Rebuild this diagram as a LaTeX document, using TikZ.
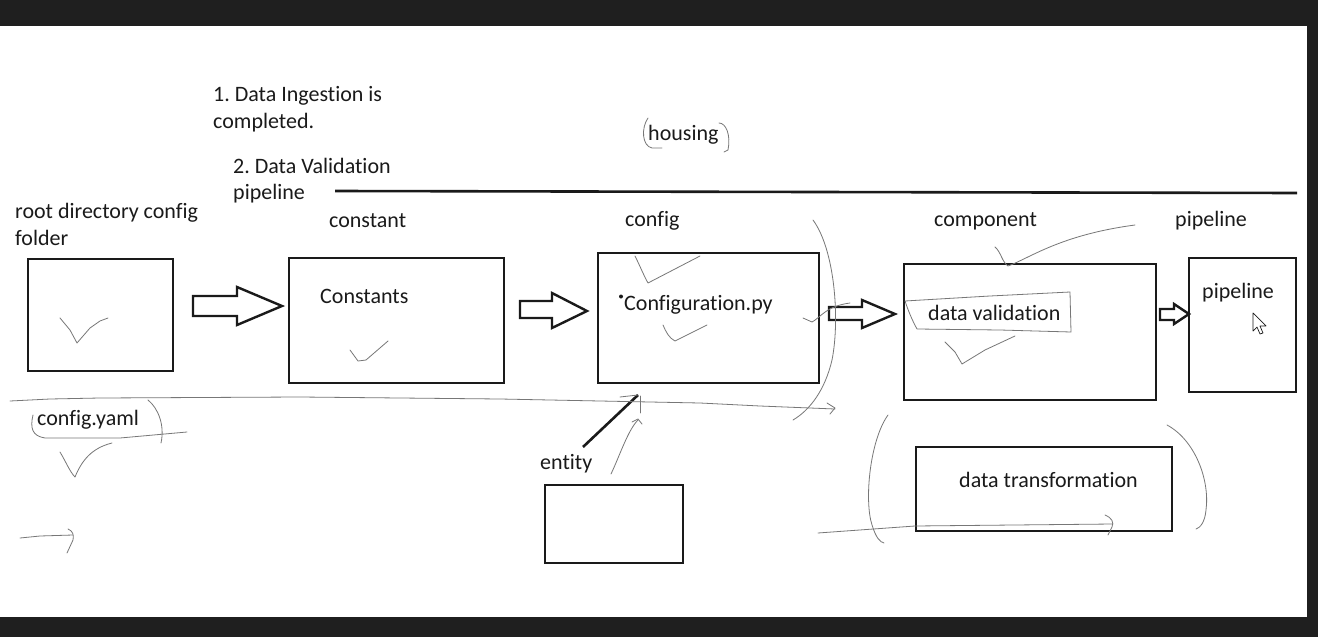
\documentclass[tikz,border=0pt]{standalone}
\usepackage{fontspec}
\setmainfont[Ligatures=NoCommon]{Carlito}
\frenchspacing
\definecolor{frame}{HTML}{1F1F1F}
\definecolor{ink}{HTML}{1A1A1A}
\definecolor{pencil}{HTML}{777777}
\begin{document}
\begin{tikzpicture}[x=1pt,y=-1pt,
  boxstyle/.style={draw=ink,line width=2.6pt,fill=white,inner sep=0pt},
  lbl/.style={anchor=base west,inner sep=0pt,text=ink,font=\fontsize{22}{27}\selectfont},
  blockarrow/.style={draw=ink,line width=2.4pt,fill=white,line join=miter},
  hand/.style={draw=pencil,line width=0.8pt,line cap=round,line join=round},
  thick line/.style={draw=ink,line width=2.6pt}]
\useasboundingbox (0,0) rectangle (1318,637);
\fill[frame] (0,0) rectangle (1318,637);
\fill[white] (0,26) rectangle (1307,617);

% texts
\node[lbl] (t1) at (213,101) {1. Data Ingestion is};
\node[lbl] (t1b) at (213,128) {completed.};
\node[lbl] (t2) at (233,173) {2. Data Validation};
\node[lbl] (t2b) at (233,199) {pipeline};
\node[lbl] (troot) at (15,218) {root directory config};
\node[lbl] (trootb) at (15,245) {folder};
\node[lbl] (tconst) at (329,227) {constant};
\node[lbl] (tconfig) at (625,226) {config};
\node[lbl] (tcomp) at (934,226) {component};
\node[lbl] (tpipe) at (1175,226) {pipeline};
\node[lbl] (thousing) at (648,140) {housing};

% top rule
\draw[thick line] (335,191) -- (1297,193);

% boxes
\node[boxstyle,minimum width=145pt,minimum height=112pt] (b1) at (100.5,315) {};
\node[boxstyle,minimum width=215pt,minimum height=125pt] (b2) at (396.5,320.5) {};
\node[boxstyle,minimum width=221pt,minimum height=130pt] (b3) at (708.5,318) {};
\node[boxstyle,minimum width=252pt,minimum height=136pt] (b4) at (1030,332) {};
\node[boxstyle,minimum width=107pt,minimum height=134pt] (b5) at (1242.5,325) {};
\node[boxstyle,minimum width=138pt,minimum height=78pt] (b6) at (614,524) {};
\node[boxstyle,minimum width=256pt,minimum height=84pt] (b7) at (1044,489) {};

% block arrows
\draw[blockarrow] (193,296) -- (237,296) -- (237,287) -- (282,306) -- (237,325) -- (237,316) -- (193,316) -- cycle;
\draw[blockarrow] (520,301) -- (552,301) -- (552,293) -- (587,311) -- (552,328) -- (552,318) -- (520,318) -- cycle;
\draw[blockarrow] (829,307) -- (862,307) -- (862,300) -- (895,314) -- (862,328) -- (862,320) -- (829,320) -- cycle;
\draw[blockarrow] (1160,309) -- (1174,309) -- (1174,304) -- (1189,314) -- (1174,324) -- (1174,320) -- (1160,320) -- cycle;

% box texts
\node[lbl] (tconstants) at (320,303) {Constants};
\node[lbl] (tconfpy) at (624,310) {Configuration.py};
\fill[ink] (621,296.5) circle (2pt);
\node[lbl] (tdv) at (928,320) {data validation};
\node[lbl] (tpipein) at (1202,298) {pipeline};
\node[lbl] (tyaml) at (37,425) {config.yaml};
\node[lbl] (tentity) at (540,469) {entity};
\node[lbl] (tdt) at (959,487) {data transformation};

% entity pointer line
\coordinate (ep) at (638,395);
\draw[ink,line width=2.6pt] (583,447) -- (ep);

% hand strokes
% housing brackets
\draw[hand] (648,118) .. controls (641,128) and (642,146) .. (652,148) -- (662,148);
\draw[hand] (719,123) .. controls (726,123) and (731,135) .. (728,150) -- (724,152);
% long horizontal line with arrow
\draw[hand] (10,401) -- (50,399) -- (100,398) -- (300,397) -- (500,399) -- (700,403) -- (760,406) -- (835,409);
\draw[hand] (827,403) -- (835,408) -- (830,414);
% config.yaml bracket
\draw[hand] (33,415) .. controls (30,428) and (32,436) .. (45,438) -- (120,438) -- (187,432);
\draw[hand] (148,400) .. controls (158,408) and (165,425) .. (161,443);
% checkmarks
\draw[hand] (60,318) -- (70,330) -- (77,343) -- (90,328) -- (100,321) -- (108,318);
\draw[hand] (350,350) -- (358,361) -- (366,360) -- (388,341);
\draw[hand] (635,256) .. controls (640,266) and (644,276) .. (648,283) -- (700,256);
\draw[hand] (663,325) .. controls (666,332) and (669,338) .. (675,341) -- (707,325);
\draw[hand] (945,342) -- (955,352) -- (962,364) -- (985,350) -- (1015,336);
\draw[hand] (60,452) .. controls (66,462) and (70,472) .. (75,477) .. controls (82,460) and (92,448) .. (112,443);
% curved stroke right of config box
\draw[hand] (813,220) .. controls (835,250) and (840,320) .. (832,360) .. controls (825,390) and (810,410) .. (793,420);
\draw[hand] (803,318) -- (812,322) .. controls (820,318) and (826,306) .. (850,303);
% stroke above component box
\draw[hand] (995,247) .. controls (1001,252) and (1002,262) .. (1008,266) .. controls (1030,258) and (1060,235) .. (1135,225);
% data validation outline
\draw[hand] (905,301) -- (990,296) -- (1070,292) -- (1071,332) -- (1000,330) -- (917,329) .. controls (912,320) and (908,310) .. (905,301);
% entity upward arrow
\draw[hand] (611,474) .. controls (620,455) and (628,430) .. (638,420);
\draw[hand] (632,422) -- (638,419) -- (642,424);
\draw[hand] (640,396) -- (640,413);
\draw[hand] (620,397) -- (ep);
% data transformation brackets
\draw[hand] (888,415) .. controls (870,440) and (864,500) .. (872,525) .. controls (876,538) and (880,542) .. (884,543);
\draw[hand] (1167,425) .. controls (1195,440) and (1210,480) .. (1206,510) .. controls (1205,522) and (1200,528) .. (1196,529);
% line with arrow under data transformation
\draw[hand] (818,533) -- (915,526) -- (1113,524);
\draw[hand] (1105,515) .. controls (1112,518) and (1114,522) .. (1112,527) -- (1108,535);
% small arrow bottom left
\draw[hand] (20,538) -- (40,536) -- (73,535);
\draw[hand] (68,529) .. controls (73,531) and (74,535) .. (73,540) -- (67,553);

% mouse cursor
\draw[ink,line width=0.7pt,fill=white,line join=round] (1253,313) -- (1253,331) -- (1257,327) -- (1260,334) -- (1263,333) -- (1260,326) -- (1266,326) -- cycle;
\end{tikzpicture}
\end{document}
